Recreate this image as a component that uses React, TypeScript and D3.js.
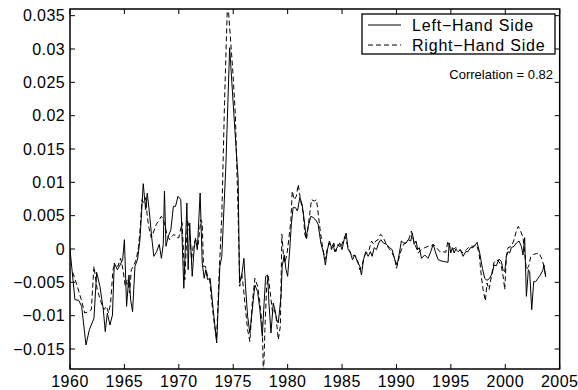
import React from "react";
import * as d3 from "d3";

const lhsYears = [1960.0,1960.45,1960.8,1961.07,1961.47,1961.78,1962.2,1962.45,1962.75,1963.06,1963.24,1963.43,1963.67,1963.9,1964.07,1964.35,1964.6,1964.84,1965.0,1965.2,1965.42,1965.57,1965.75,1965.97,1966.2,1966.43,1966.73,1966.95,1967.1,1967.3,1967.5,1967.7,1967.96,1968.2,1968.4,1968.57,1968.68,1968.82,1969.03,1969.27,1969.5,1969.7,1969.92,1970.18,1970.46,1970.6,1970.74,1970.86,1971.0,1971.23,1971.4,1971.53,1971.7,1971.96,1972.15,1972.33,1972.48,1972.64,1972.88,1973.16,1973.48,1973.77,1973.95,1974.32,1974.67,1975.15,1975.45,1975.58,1975.77,1975.98,1976.13,1976.32,1976.53,1976.75,1976.99,1977.24,1977.45,1977.67,1977.8,1977.98,1978.16,1978.28,1978.47,1978.68,1978.83,1979.0,1979.14,1979.39,1979.5,1979.69,1979.85,1980.0,1980.17,1980.35,1980.5,1980.72,1980.9,1981.12,1981.33,1981.52,1981.7,1981.89,1982.13,1982.38,1982.65,1982.8,1983.05,1983.3,1983.47,1983.66,1983.84,1984.03,1984.18,1984.33,1984.58,1984.79,1985.0,1985.19,1985.37,1985.56,1985.74,1985.96,1986.17,1986.41,1986.63,1986.78,1986.97,1987.18,1987.4,1987.61,1987.76,1987.95,1988.16,1988.37,1988.56,1988.8,1989.08,1989.38,1989.6,1989.84,1990.06,1990.27,1990.45,1990.67,1990.88,1991.07,1991.31,1991.46,1991.62,1991.8,1991.95,1992.1,1992.3,1992.6,1992.9,1993.15,1993.37,1993.61,1993.83,1994.13,1994.44,1994.74,1994.84,1994.99,1995.14,1995.3,1995.45,1995.66,1995.88,1996.12,1996.37,1996.58,1996.8,1997.04,1997.28,1997.41,1997.65,1997.9,1998.11,1998.32,1998.57,1998.81,1998.97,1999.18,1999.43,1999.64,1999.79,1999.95,2000.1,2000.25,2000.4,2000.56,2000.8,2001.02,2001.26,2001.48,2001.63,2001.78,2001.94,2002.12,2002.24,2002.43,2002.61,2002.79,2003.0,2003.22,2003.47,2003.55,2003.71];
const lhsValues = [0.0,-0.0076,-0.0077,-0.0086,-0.0144,-0.0121,-0.0104,-0.0035,-0.0056,-0.0091,-0.0124,-0.0096,-0.0114,-0.0099,-0.0021,-0.0031,-0.0024,-0.0016,0.0014,-0.0086,-0.0039,-0.0076,-0.0094,-0.0026,-0.0016,0.0014,0.0098,0.0059,0.0084,0.0054,0.0019,-0.0011,-0.0004,0.0007,-0.0014,0.0007,0.0087,0.0004,0.0019,0.0029,0.0064,0.0064,0.0079,0.0074,-0.0059,0.0004,0.0069,-0.0031,0.0039,-0.0041,-0.0001,0.0016,-0.0001,0.0084,-0.0021,-0.0044,-0.0031,-0.0046,-0.0044,-0.0091,-0.0141,-0.0026,-0.0011,0.0124,0.0302,0.0179,0.0105,-0.0051,-0.0041,-0.0014,-0.0056,-0.0101,-0.0126,-0.0091,-0.0054,-0.0064,-0.0091,-0.0131,-0.0091,-0.0041,-0.0039,-0.0081,-0.0126,-0.0081,-0.0091,-0.0106,-0.0111,-0.0071,-0.0026,-0.0009,-0.0031,-0.0041,-0.0006,0.0039,0.0062,0.0062,0.0057,0.0077,0.0067,0.0044,0.0017,0.0034,0.0049,0.0047,0.0042,0.0037,0.0009,-0.0006,-0.0024,-0.0001,0.0012,0.0002,0.0007,-0.0004,0.0003,0.0009,-0.0001,0.0014,0.0024,-0.0001,-0.0004,-0.0016,-0.0009,-0.0019,-0.0026,-0.0039,-0.0016,-0.0004,-0.0011,-0.0004,-0.0011,0.0002,-0.0001,0.0009,0.0014,0.0009,0.0007,0.0002,-0.0001,-0.0016,-0.0024,-0.0006,0.0012,0.0009,0.0009,0.0014,0.0012,0.0024,0.0007,0.0012,-0.0001,0.0002,-0.0014,-0.0009,-0.0014,-0.0004,0.0007,-0.0006,-0.0016,-0.0018,-0.0019,-0.002,0.0009,-0.0006,0.0002,-0.0006,0.0,-0.0004,-0.0001,-0.0011,-0.0004,-0.0004,0.0002,0.0002,0.0007,0.001,-0.0006,-0.0029,-0.0044,-0.0047,-0.0044,-0.0036,-0.0024,-0.0025,-0.0015,-0.0019,-0.0031,-0.0034,-0.0011,-0.0004,-0.0006,0.0002,0.0004,0.0009,0.0012,0.0004,-0.0009,0.0017,-0.0071,-0.0031,-0.0034,-0.0091,-0.0049,-0.0049,-0.0044,-0.0039,-0.0031,-0.0024,-0.0042];

const rhsYears = [1960.25,1960.65,1961.04,1961.35,1961.7,1961.96,1962.2,1962.5,1962.88,1963.12,1963.34,1963.55,1963.73,1963.95,1964.1,1964.4,1964.65,1964.87,1965.08,1965.26,1965.48,1965.63,1965.82,1966.09,1966.3,1966.49,1966.61,1966.8,1966.95,1967.1,1967.25,1967.47,1967.71,1967.93,1968.14,1968.39,1968.54,1968.75,1968.9,1969.15,1969.37,1969.55,1969.77,1970.0,1970.3,1970.55,1970.8,1971.0,1971.17,1971.32,1971.53,1971.78,1972.02,1972.15,1972.27,1972.45,1972.64,1972.82,1973.0,1973.25,1973.47,1973.68,1973.95,1974.2,1974.48,1974.95,1975.2,1975.45,1975.6,1975.77,1975.95,1976.13,1976.32,1976.53,1976.75,1976.99,1977.24,1977.45,1977.67,1977.78,1977.91,1978.07,1978.22,1978.44,1978.62,1978.77,1978.93,1979.14,1979.33,1979.47,1979.6,1979.75,1979.95,1980.1,1980.3,1980.42,1980.6,1980.8,1980.97,1981.18,1981.43,1981.58,1981.73,1981.95,1982.19,1982.44,1982.65,1982.8,1983.02,1983.2,1983.42,1983.63,1983.81,1984.03,1984.24,1984.43,1984.64,1984.85,1985.04,1985.25,1985.47,1985.71,1985.93,1986.17,1986.41,1986.63,1986.84,1987.09,1987.3,1987.49,1987.7,1987.92,1988.1,1988.31,1988.53,1988.74,1988.93,1989.17,1989.39,1989.6,1989.84,1990.0,1990.27,1990.45,1990.67,1990.88,1991.12,1991.37,1991.59,1991.77,1991.99,1992.3,1992.6,1992.9,1993.2,1993.37,1993.67,1993.98,1994.28,1994.53,1994.74,1994.9,1995.14,1995.45,1995.75,1996.12,1996.43,1996.73,1997.04,1997.35,1997.59,1997.8,1997.96,1998.17,1998.32,1998.51,1998.72,1998.94,1999.18,1999.43,1999.64,1999.84,1999.95,2000.1,2000.25,2000.56,2000.77,2001.02,2001.2,2001.48,2001.63,2001.78,2001.94,2002.15,2002.33,2002.61,2002.86,2003.1,2003.31,2003.53,2003.71];
const rhsValues = [-0.0035,-0.0055,-0.0076,-0.0096,-0.0094,-0.0091,-0.0026,-0.0061,-0.0081,-0.0091,-0.0086,-0.0096,-0.0081,-0.0031,-0.0024,-0.0026,-0.0014,-0.0031,-0.0056,-0.0046,-0.0066,-0.0031,-0.0026,-0.0016,0.0004,0.0039,0.0074,0.0069,0.0077,0.0049,0.0032,0.0017,0.0027,0.0037,0.0042,0.0049,0.0046,0.0034,0.0022,0.0014,0.0019,0.0022,0.0017,0.0017,0.004,-0.0046,0.0044,0.0024,-0.0016,0.0004,0.0014,0.0007,0.0044,0.0039,-0.0026,-0.0026,-0.0041,-0.0044,-0.0076,-0.0111,-0.0136,-0.0046,0.005,0.022,0.0375,0.027,0.02,0.005,-0.0056,-0.0036,-0.006,-0.0091,-0.0121,-0.0139,-0.0081,-0.0044,-0.0056,-0.0081,-0.0116,-0.0195,-0.0121,-0.0056,-0.0041,-0.0071,-0.0096,-0.0091,-0.0101,-0.0136,-0.0116,0.0022,-0.0006,-0.0021,-0.0006,0.0014,0.0044,0.0087,0.0074,0.0079,0.0097,0.0074,0.0054,0.0022,0.0014,0.0042,0.0074,0.0072,0.0074,0.0054,0.0024,0.0004,-0.0016,-0.0001,0.0009,-0.0001,0.0009,-0.0004,0.0007,0.0002,0.0009,0.0019,0.0007,-0.0004,-0.0011,-0.0009,-0.0016,-0.0031,-0.0024,-0.0009,-0.0006,-0.0001,0.0012,0.0007,0.0012,0.0014,0.0022,0.0019,0.0012,0.0004,-0.0001,-0.0006,-0.0014,-0.0029,-0.0011,-0.0001,0.0007,0.0009,0.0014,0.0027,0.0012,0.0004,-0.0006,-0.0001,0.0002,0.0004,0.0004,0.0007,0.0002,-0.0004,-0.0004,-0.0005,0.0012,0.0004,-0.0001,0.0002,-0.0001,-0.0006,-0.0001,0.0004,0.0004,0.0007,-0.0006,-0.0041,-0.0061,-0.0078,-0.0051,-0.0061,-0.0041,-0.0021,-0.0016,-0.0019,-0.0026,-0.0045,-0.0061,-0.0011,0.0002,0.0004,0.0012,0.0027,0.0034,0.0024,0.0017,-0.0006,-0.0031,-0.0026,-0.0012,-0.0008,-0.0007,-0.0006,-0.0013,-0.0024,-0.004];

const xTicks = [1960, 1965, 1970, 1975, 1980, 1985, 1990, 1995, 2000, 2005];
const xTickLabels = ["1960", "1965", "1970", "1975", "1980", "1985", "1990", "1995", "2000", "2005"];
const yTicks = [-0.015, -0.01, -0.005, 0, 0.005, 0.01, 0.015, 0.02, 0.025, 0.03, 0.035];
const yTickLabels = ["\u22120.015", "\u22120.01", "\u22120.005", "0", "0.005", "0.01", "0.015", "0.02", "0.025", "0.03", "0.035"];
const seriesNames = ["Left\u2212Hand Side", "Right\u2212Hand Side"];
const annotation = "Correlation = 0.82";

const W = 578, H = 390;
const L = 70, R = 559.7, T = 9, B = 369;
const FONT = "'Liberation Sans', Arial, Helvetica, sans-serif";

export default function App() {
  const x = d3.scaleLinear().domain([1960, 2005]).range([L, R]);
  const y = d3.scaleLinear().domain([-0.018, 0.036]).range([B, T]);
  const line = d3.line<[number, number]>().x((d) => x(d[0])).y((d) => y(d[1]));
  const lhs = lhsYears.map((t, i) => [t, lhsValues[i]] as [number, number]);
  const rhs = rhsYears.map((t, i) => [t, rhsValues[i]] as [number, number]);
  const tk = 5;

  return (
    <svg width={W} height={H} style={{ position: "absolute", left: 0, top: 0, background: "#fff" }}>
      <rect x={0} y={0} width={W} height={H} fill="#fff" />
      <defs>
        <clipPath id="plotclip">
          <rect x={L} y={T} width={R - L} height={B - T} />
        </clipPath>
      </defs>
      <g clipPath="url(#plotclip)" fill="none" stroke="#000" strokeWidth={1}>
        <path d={line(lhs) || ""} />
        <path d={line(rhs) || ""} strokeDasharray="5,3" />
      </g>
      <g stroke="#000" strokeWidth={1}>
        {xTicks.map((t) => (
          <g key={"xt" + t}>
            <line x1={x(t)} x2={x(t)} y1={B} y2={B - tk} />
            <line x1={x(t)} x2={x(t)} y1={T} y2={T + tk} />
          </g>
        ))}
        {yTicks.map((v) => (
          <g key={"yt" + v}>
            <line x1={L} x2={L + tk} y1={y(v)} y2={y(v)} />
            <line x1={R} x2={R - tk} y1={y(v)} y2={y(v)} />
          </g>
        ))}
        <rect x={L} y={T} width={R - L} height={B - T} fill="none" strokeWidth={1.5} />
      </g>
      <g fontFamily={FONT} fontSize={16} fill="#000">
        {xTicks.map((t, i) => (
          <text key={"xl" + t} x={x(t)} y={387} textAnchor="middle" letterSpacing={0.5}>
            {xTickLabels[i]}
          </text>
        ))}
        {yTicks.map((v, i) => (
          <text key={"yl" + v} x={65} y={y(v) + 5.8} textAnchor="end" letterSpacing={0.4}>
            {yTickLabels[i]}
          </text>
        ))}
      </g>
      <g>
        <rect x={362} y={14} width={193} height={40} fill="#fff" stroke="#000" strokeWidth={1.3} />
        <line x1={368} x2={401} y1={25} y2={25} stroke="#000" strokeWidth={1} />
        <line x1={368} x2={401} y1={45} y2={45} stroke="#000" strokeWidth={1} strokeDasharray="5,3" />
        <text x={412} y={30.5} fontFamily={FONT} fontSize={16} letterSpacing={0.8}>{seriesNames[0]}</text>
        <text x={412} y={50.5} fontFamily={FONT} fontSize={16} letterSpacing={0.8}>{seriesNames[1]}</text>
      </g>
      <text x={553} y={79} textAnchor="end" fontFamily={FONT} fontSize={13}>{annotation}</text>
    </svg>
  );
}
